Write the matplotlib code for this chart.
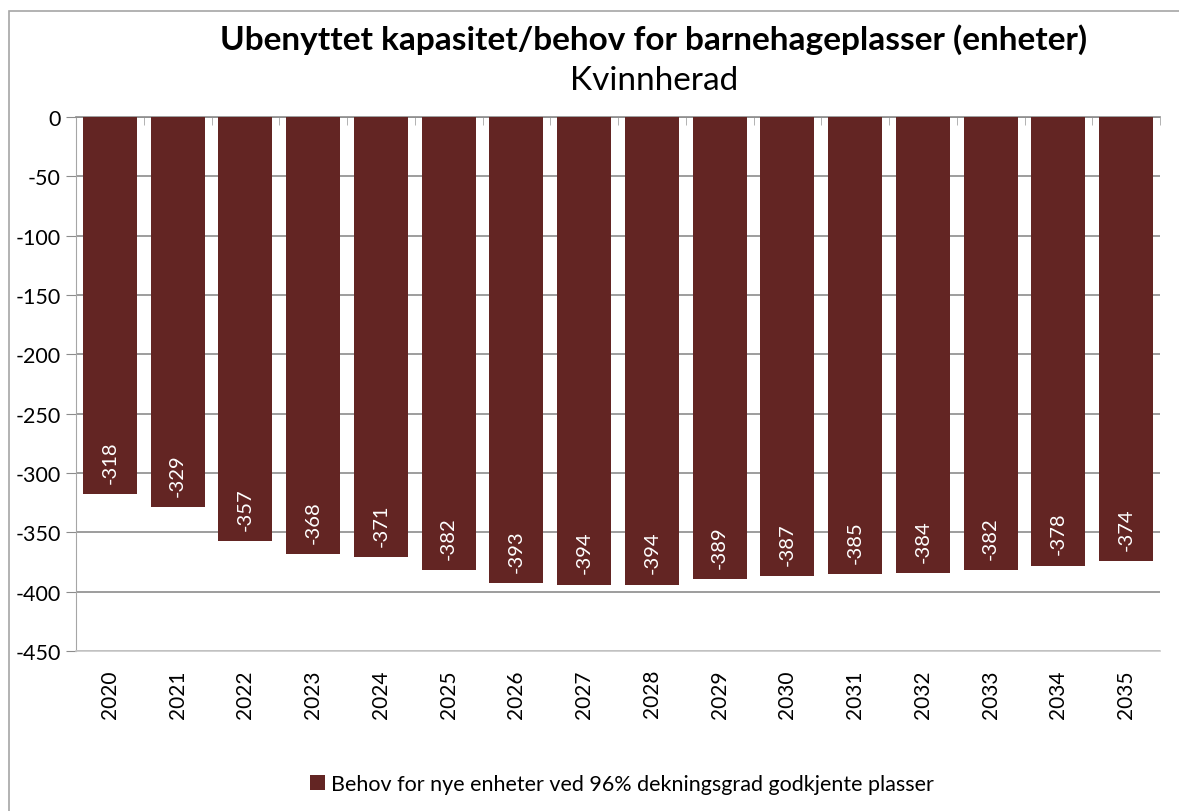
import numpy as np
import matplotlib.pyplot as plt
from matplotlib.patches import Rectangle

years = [str(y) for y in range(2020, 2036)]
values = [-318, -329, -357, -368, -371, -382, -393, -394, -394,
          -389, -387, -385, -384, -382, -378, -374]
series_name = 'Behov for nye enheter ved 96% dekningsgrad godkjente plasser'
title = 'Ubenyttet kapasitet/behov for barnehageplasser (enheter)'
subtitle = 'Kvinnherad'

plt.rcParams['font.family'] = ['Lato', 'DejaVu Sans']
plt.rcParams['axes.unicode_minus'] = False
bar_color = '#632523'

fig = plt.figure(figsize=(11.79, 8.12), dpi=100)
fig.patches.append(Rectangle((9 / 1179, -0.1), 1.2, 1 - 12 / 812 + 0.1,
                             transform=fig.transFigure, fill=False,
                             edgecolor='#a6a6a6', linewidth=1.2))

ax = fig.add_axes([76 / 1179, 1 - 652 / 812, (1160 - 76) / 1179, (652 - 118) / 812])
x = np.arange(len(years))
bars = ax.bar(x, values, width=0.8, color=bar_color, label=series_name, zorder=3)

for xi, v in zip(x, values):
    ax.annotate(str(v), (xi, v), xytext=(0, 8), textcoords='offset points',
                rotation=90, ha='center', va='bottom', color='white',
                fontsize=14.5, zorder=4)

ax.set_xlim(-0.5, len(years) - 0.5)
ax.set_ylim(-450, 0)
ax.set_yticks(np.arange(-450, 1, 50))
ax.yaxis.grid(True, color='#8c8c8c', linewidth=1.2, zorder=0)
ax.set_axisbelow(True)

ax.set_xticks(x)
ax.set_xticklabels(years, rotation=90, fontsize=15)
ax.set_xticks(np.arange(-0.5, len(years), 1), minor=True)
ax.tick_params(axis='x', which='major', length=0, pad=13)
ax.tick_params(axis='x', which='minor', bottom=False, top=True, direction='in',
               length=6, color='#a6a6a6')
ax.tick_params(axis='y', labelsize=15.5, length=7, color='#8c8c8c', pad=4)

ax.spines['right'].set_visible(False)
ax.spines['left'].set_color('#a6a6a6')
ax.spines['top'].set_color('#8c8c8c')
ax.spines['top'].set_linewidth(1.2)
ax.spines['bottom'].set_color('#c8c8c8')
ax.spines['bottom'].set_linewidth(1.2)

fig.text(654 / 1179, 1 - 40 / 812, title, ha='center', va='center',
         fontsize=24, fontweight='bold')
fig.text(654 / 1179, 1 - 81 / 812, subtitle, ha='center', va='center', fontsize=24)

fig.legend(loc='center', bbox_to_anchor=(622 / 1179, 1 - 785 / 812), frameon=False,
           fontsize=15.5, handlelength=0.7, handleheight=0.7, handletextpad=0.3)

fig.savefig('out.png', dpi=100)
